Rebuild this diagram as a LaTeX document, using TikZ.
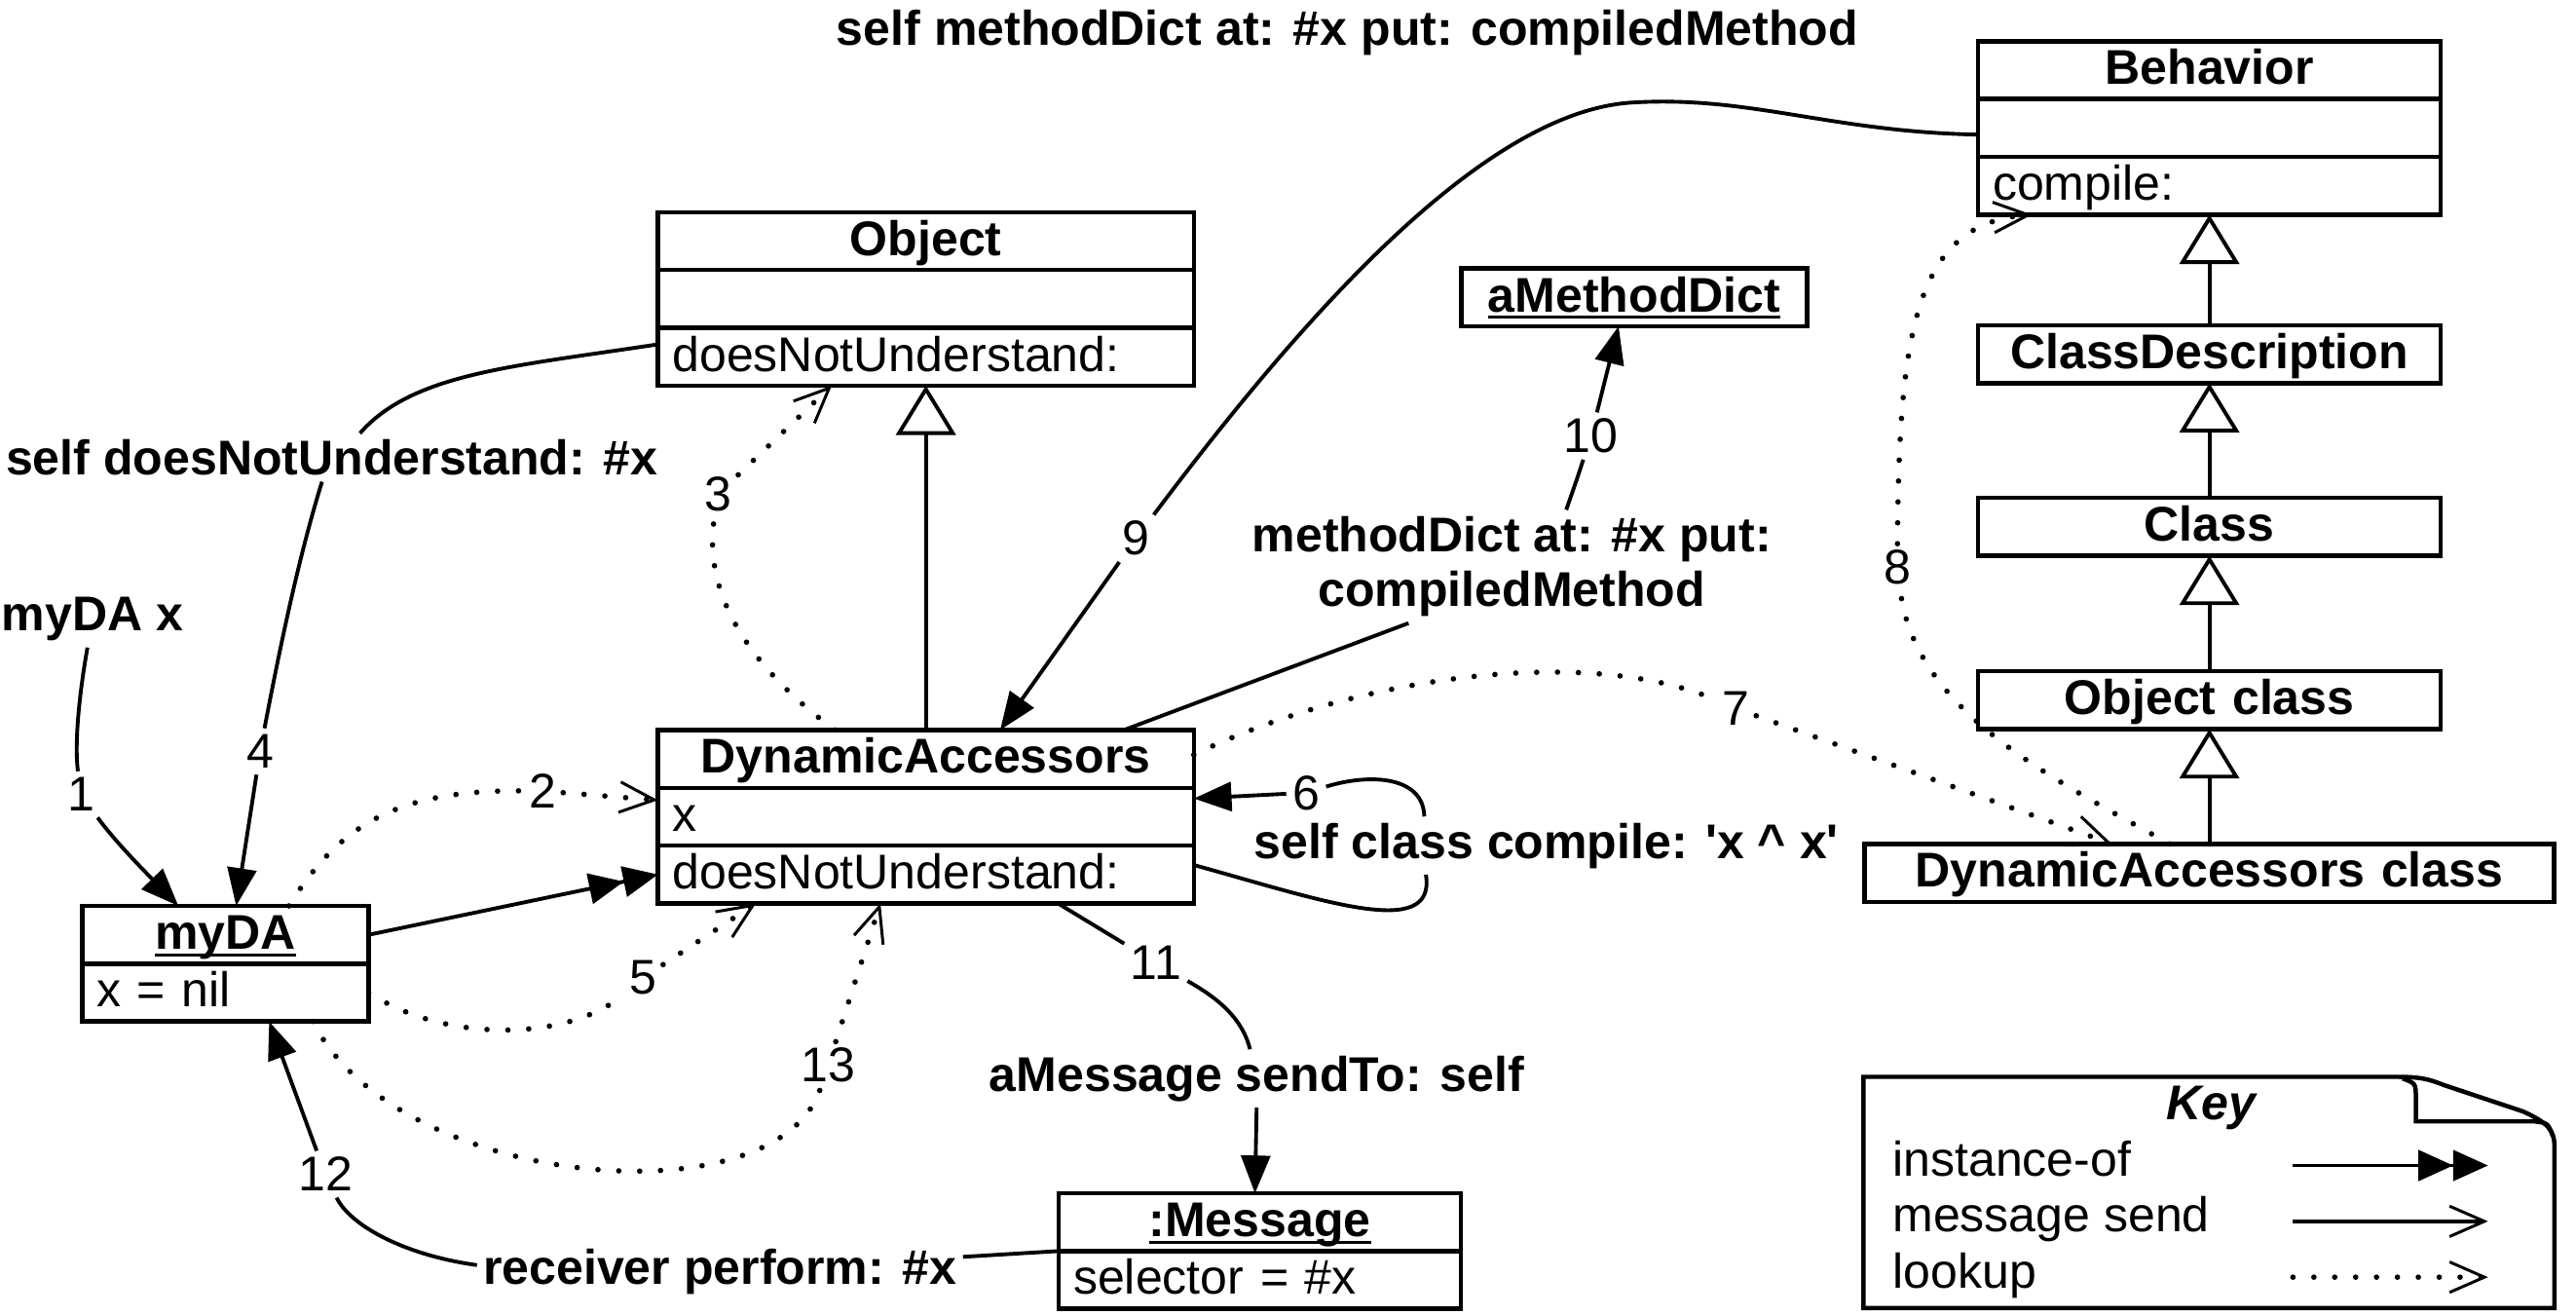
\documentclass[tikz,border=0pt]{standalone}
\usepackage{fontspec}
\setmainfont{Liberation Sans}
\usepackage{tikz}
\usetikzlibrary{arrows.meta, positioning}
\newcommand\ulname[1]{\setbox0\hbox{#1}\rlap{\rule[-2.4pt]{\wd0}{1pt}}\box0}

\begin{document}
\fontsize{16.8}{19}\selectfont
\begin{tikzpicture}[x=0.02cm, y=-0.02cm,
  hdr/.style={draw, line width=1.5pt, font=\bfseries, text width=#1, align=center, inner xsep=5pt, inner ysep=0pt, outer sep=0pt, minimum height=0.7cm, text height=14.5pt, text depth=4.5pt},
  rowbox/.style={draw, line width=1.5pt, text width=#1, align=left, inner xsep=5pt, inner ysep=0pt, outer sep=0pt, minimum height=0.7cm, text height=14.5pt, text depth=4.5pt, anchor=north},
  num/.style={inner sep=2pt},
  lbl/.style={font=\bfseries, inner sep=2pt},
  plain/.style={line width=1.3pt},
  msg/.style={line width=1.3pt, -{Triangle[length=13pt,width=10pt]}},
  send/.style={line width=1.3pt, -{Straight Barb[length=12pt,width=10.5pt,line width=1pt]}},
  inst/.style={line width=1.3pt, -{Triangle[length=12pt,width=10.5pt]Triangle[length=12pt,width=10.5pt]}},
  lookline/.style={line width=1.9pt, line cap=round, dash pattern=on 0pt off 7.2pt},
  lookup/.style={lookline, -{Straight Barb[length=12pt,width=10.5pt,line width=1pt]}},
  inherit/.style={line width=1.3pt, -{Triangle[fill=white,length=17pt,width=20.5pt]}}]
  \useasboundingbox (0,0) rectangle (1560,796.2);

  % Object
  \node[hdr=6.14cm] (objH) at (560.7,146) {Object};
  \node[rowbox=6.14cm] (objM) at (objH.south) {};
  \node[rowbox=6.14cm] (objB) at (objM.south) {doesNotUnderstand:};

  % DynamicAccessors
  \node[hdr=6.14cm] (daH) at (560.7,459.5) {DynamicAccessors};
  \node[rowbox=6.14cm] (daX) at (daH.south) {x};
  \node[rowbox=6.14cm] (daD) at (daX.south) {doesNotUnderstand:};

  % instances
  \node[hdr=3.12cm] (myH) at (136.5,566) {\ulname{myDA}};
  \node[rowbox=3.12cm] (myB) at (myH.south) {x = nil};
  \node[hdr=4.52cm] (msgH) at (763,740) {\ulname{:Message}};
  \node[rowbox=4.52cm] (msgB) at (msgH.south) {selector = \#x};
  \node[hdr=3.835cm] (mdict) at (989.7,180) {\ulname{aMethodDict}};

  % Metaclass chain
  \node[hdr=5.25cm] (behH) at (1338,42.5) {Behavior};
  \node[rowbox=5.25cm] (behM) at (behH.south) {};
  \node[rowbox=5.25cm] (behB) at (behM.south) {compile:};
  \node[hdr=5.25cm] (cdesc) at (1338,214.5) {ClassDescription};
  \node[hdr=5.25cm] (cls) at (1338,319) {Class};
  \node[hdr=5.25cm] (objcls) at (1338,424) {Object class};
  \node[hdr=8cm] (dacls) at (1338,528.5) {DynamicAccessors class};

  \draw[inherit] (daH) -- (objB);
  \draw[inherit] (cdesc) -- (behB);
  \draw[inherit] (cls) -- (cdesc);
  \draw[inherit] (objcls) -- (cls);
  \draw[inherit] (dacls) -- (objcls);

  % Labels and step numbers
  \node[lbl] (lblX) at (56,375) {myDA x};
  \node[num] (n1) at (49,481) {1};
  \node[lbl] (lbl4) at (201,277) {self doesNotUnderstand: \#x};
  \node[num] (n4) at (157.5,455) {4};
  \node[num] (n2) at (329,479) {2};
  \node[num] (n3) at (435,299) {3};
  \node[num] (n5) at (389.5,592) {5};
  \node[num] (n13) at (501.5,645) {13};
  \node[num] (n9) at (688,326) {9};
  \node[lbl] (lblTop) at (816,20) {self methodDict at: \#x put: compiledMethod};
  \node[lbl, align=center] (lbl10) at (915.5,343) {methodDict at: \#x put:\\compiledMethod};
  \node[num] (n10) at (963.5,264) {10};
  \node[num] (n7) at (1051.5,429) {7};
  \node[num] (n8) at (1149,343.5) {8};
  \node[lbl] (lbl6) at (936.5,512) {self class compile: \textquotesingle x \textasciicircum{} x\textquotesingle};
  \node[num] (n6) at (791,480) {6};
  \node[num] (n11) at (700,583) {11};
  \node[lbl] (lbl11) at (761,653) {aMessage sendTo: self};
  \node[lbl] (lbl12) at (436,770) {receiver perform: \#x};
  \node[num] (n12) at (197,711) {12};

  % 1 and 4: sends to myDA
  \draw[plain] (lblX) .. controls (48,420) and (45,450) .. (n1);
  \draw[msg] (n1) .. controls (70,510) and (90,530) .. ([xshift=-0.57cm]myH.north);
  \draw[plain] ([yshift=0.15cm]objB.west) .. controls (310,222) and (250,226) .. ([xshift=0.34cm]lbl4.north);
  \draw[plain] ([xshift=-0.12cm]lbl4.south) .. controls (180,340) and (168,400) .. (n4);
  \draw[msg] (n4) -- ([xshift=0.13cm]myH.north);

  % instance-of
  \draw[inst] (myH.east) -- (daD.west);

  % lookups 2, 3, 5, 13
  \draw[lookline] ([xshift=0.77cm]myH.north) .. controls (205,500) and (240,478) .. (n2);
  \draw[lookup] (n2) -- ([yshift=0.2cm]daX.west);
  \draw[lookline] ([xshift=-1.1cm]daH.north) .. controls (455,405) and (425,360) .. (n3);
  \draw[lookup] (n3) -- ([xshift=-1.14cm]objB.south);
  \draw[lookline] (myB.east) .. controls (270,632) and (345,630) .. (n5);
  \draw[lookup] (n5) -- ([xshift=-2.06cm]daD.south);
  \draw[lookline] ([xshift=1.06cm]myB.south) .. controls (240,720) and (470,740) .. (n13);
  \draw[lookup] (n13) -- ([xshift=-0.55cm]daD.south);

  % 6: compile
  \draw[plain] ([yshift=0.115cm]daD.east) .. controls (800,545) and (870,570) .. ([xshift=-1.46cm]lbl6.south);
  \draw[plain] ([xshift=-1.48cm]lbl6.north) .. controls (862,470) and (830,468) .. (n6);
  \draw[msg] (n6) -- ([yshift=0.22cm]daX.east);

  % 7 and 8: lookup of compile:
  \draw[lookline] ([yshift=0.05cm]daH.east) .. controls (820,410) and (960,390) .. (n7);
  \draw[lookup] (n7) -- ([xshift=-1.18cm]dacls.north);
  \draw[lookline] ([xshift=-0.48cm]dacls.north) .. controls (1240,470) and (1160,430) .. (n8);
  \draw[lookup] (n8) .. controls (1150,200) and (1160,135) .. ([xshift=-2.15cm]behB.south);

  % 9 and 10: methodDict
  \draw[plain] ([yshift=-0.08cm]behM.west) .. controls (1110,80) and (1060,58) .. (990,62) .. controls (900,66) and (790,190) .. (n9);
  \draw[msg] (n9) -- ([xshift=0.9cm]daH.north);
  \draw[plain] ([xshift=2.4cm]daH.north) -- ([xshift=-1.25cm]lbl10.south);
  \draw[plain] ([xshift=0.66cm]lbl10.north) .. controls (955,290) .. (n10);
  \draw[msg] (n10) -- ([xshift=-0.19cm]mdict.south);

  % 11 and 12: aMessage
  \draw[plain] ([xshift=1.6cm]daD.south) -- (n11);
  \draw[plain] (n11) .. controls (735,603) and (752,615) .. ([xshift=-0.08cm]lbl11.north);
  \draw[msg] (lbl11.south) -- ([xshift=-0.06cm]msgH.north);
  \draw[plain] (msgH.south west) -- ([yshift=0.18cm]lbl12.east);
  \draw[plain] ([yshift=0.08cm]lbl12.west) .. controls (245,760) and (212,742) .. (n12);
  \draw[msg] (n12) -- ([xshift=0.53cm]myB.south);

  % Key
  \draw[line width=1.5pt] (1128.5,652) -- (1450,652) .. controls (1465,652) and (1470,653) .. (1480,657) -- (1528,673) .. controls (1543,680) and (1547,684) .. (1547,695) -- (1547,792) -- (1128.5,792) -- cycle;
  \draw[line width=1.5pt] (1455,653) .. controls (1463,656) .. (1463,665) -- (1463,679) -- (1535,679) .. controls (1543,680) .. (1546,688);
  \node[font=\bfseries\itshape, anchor=base] (keyT) at (1339,678) {Key};
  \node[anchor=base west] (kInst) at (1136,712) {instance-of};
  \node[anchor=base west] (kSend) at (1136,746) {message send};
  \node[anchor=base west] (kLook) at (1136,780) {lookup};
  \coordinate (kInstA) at (1388.6,705.7);
  \coordinate (kInstB) at (1506.7,705.7);
  \coordinate (kSendA) at (1388.6,739.5);
  \coordinate (kSendB) at (1506.7,739.5);
  \coordinate (kLookA) at (1388.6,773.3);
  \coordinate (kLookB) at (1506.7,773.3);
  \draw[inst] (kInstA) -- (kInstB);
  \draw[send] (kSendA) -- (kSendB);
  \draw[lookup] (kLookA) -- (kLookB);
\end{tikzpicture}
\end{document}
